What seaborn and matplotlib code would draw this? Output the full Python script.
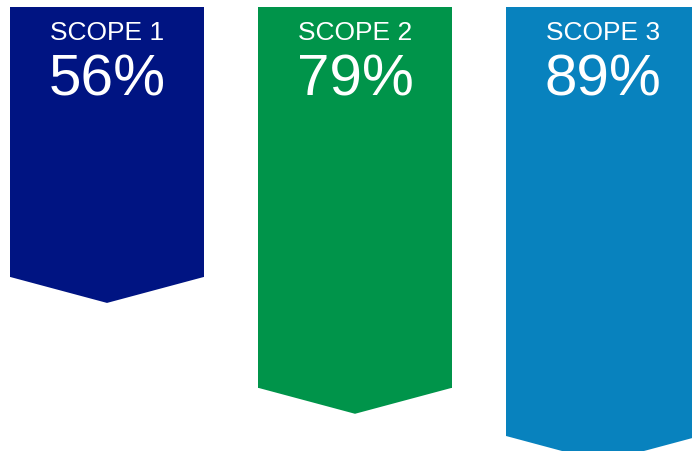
import matplotlib
matplotlib.use("Agg")
import matplotlib.pyplot as plt
import seaborn as sns
import pandas as pd
from matplotlib.patches import Polygon

scopes = ["SCOPE 1", "SCOPE 2", "SCOPE 3"]
values = [56, 79, 89]
colors = ["#001482", "#00944A", "#0882BE"]

df = pd.DataFrame({"scope": scopes, "value": values})

sns.set_theme(style="white")
plt.rcParams["font.family"] = ["Liberation Sans", "DejaVu Sans"]

W, H = 692, 451
fig = plt.figure(figsize=(W / 100, H / 100), dpi=100)
ax = fig.add_axes([0, 0, 1, 1])

k = 4.82            # px per percent
top_px = 7
spacing = 248       # px between bar centres
first_c = 107       # px of first bar centre
bw = 194 / spacing  # bar width in category units

sns.barplot(data=df, x="scope", y="value", hue="scope", palette=colors,
            width=bw, legend=False, ax=ax, saturation=1, linewidth=0)

ax.set_xlim(-first_c / spacing, (W - first_c) / spacing)
ax.set_ylim((H - top_px) / k, -top_px / k)

tip = 26 / k
ov = 1.0  # overlap into bar to hide antialias seam
for i, (v, c) in enumerate(zip(values, colors)):
    poly = Polygon([(i - bw / 2, v - ov), (i + bw / 2, v - ov),
                    (i + bw / 2, v), (i, v + tip), (i - bw / 2, v)],
                   closed=True, facecolor=c, edgecolor="none")
    ax.add_patch(poly)
    ax.text(i, (40 - top_px) / k, scopes[i], color="white", fontsize=19,
            ha="center", va="baseline")
    ax.text(i, (95 - top_px) / k, f"{v}%", color="white", fontsize=42,
            ha="center", va="baseline")

ax.axis("off")
fig.savefig("out.png", dpi=100)
